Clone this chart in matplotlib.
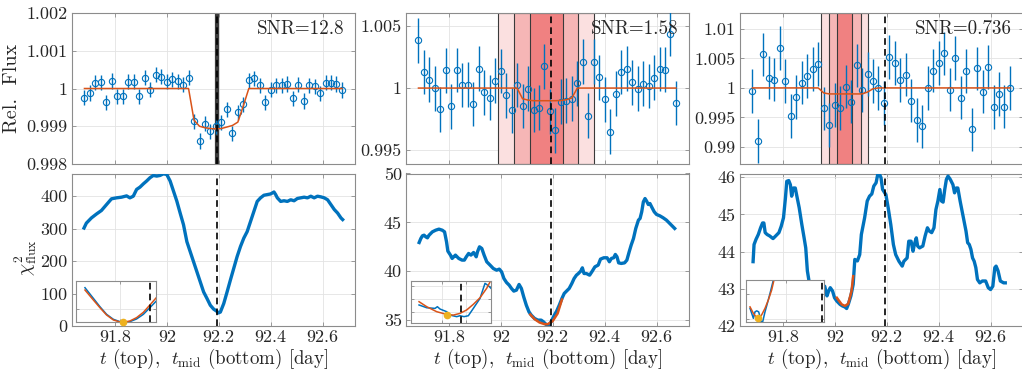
import numpy as np
import matplotlib
matplotlib.use('Agg')
import matplotlib.pyplot as plt

plt.rcParams['font.family'] = 'serif'
plt.rcParams['font.serif'] = ['cmr10']
plt.rcParams['mathtext.fontset'] = 'cm'
plt.rcParams['axes.unicode_minus'] = False
plt.rcParams['axes.formatter.use_mathtext'] = True

# ---- data ----
t_start = 91.683          # first exposure [day]
cadence = 0.0211          # exposure spacing [day]
n_obs = 48
t_obs = t_start + cadence * np.arange(n_obs)

t_mid_true = 92.192
snr_labels = ['SNR=12.8', 'SNR=1.58', 'SNR=0.736']

flux1 = [0.99976, 0.99988, 1.00015, 1.00017, 0.99964, 1.00020, 0.99980, 0.99980, 1.00018, 1.00018,
         0.99980, 1.00029, 0.99997, 1.00037, 1.00031, 1.00018, 1.00024, 1.00019, 1.00010, 1.00028,
         0.99913, 0.99861, 0.99907, 0.99887, 0.99900, 0.99911, 0.99945, 0.99881, 0.99937, 0.99958,
         1.00022, 1.00027, 1.00009, 0.99964, 0.99997, 1.00008, 1.00009, 1.00012, 0.99974, 1.00010,
         0.99967, 1.00009, 1.00006, 0.99987, 1.00015, 1.00015, 1.00012, 0.99996]
flux2 = [1.00385, 1.00129, 1.00067, 0.99997, 0.99828, 1.00143, 0.99852, 1.00145, 1.00024, 1.00027,
         0.99871, 1.00156, 0.99965, 0.99922, 1.00059, 1.00137, 0.99941, 0.99820, 1.00024, 0.99855,
         0.99995, 0.99822, 0.99841, 1.00175, 0.99812, 0.99658, 0.99890, 0.99898, 0.99914, 1.00038,
         1.00213, 0.99777, 1.00213, 1.00086, 0.99909, 0.99648, 0.99954, 1.00129, 1.00156, 1.00046,
         0.99995, 1.00035, 1.00016, 1.00083, 1.00153, 1.00148, 1.00436, 0.99879]
flux3 = [0.99943, 0.99097, 1.00568, 1.00176, 1.00142, 1.00676, 1.00114, 0.99523, 0.99847, 1.00091,
         1.00205, 1.00324, 1.00403, 0.99653, 0.99375, 0.99705, 0.99659, 1.00023, 0.99767, 1.00380,
         0.99960, 1.00239, 1.00114, 1.00000, 0.99739, 1.00523, 1.00420, 1.00131, 1.00227, 0.99784,
         0.99460, 0.99347, 1.00000, 1.00295, 1.00420, 1.00585, 0.99972, 1.00506, 0.99835, 1.00284,
         0.99296, 1.00330, 0.99938, 1.00352, 0.99676, 0.99892, 0.99682, 1.00000]
flux_err = [0.0002, 0.0018, 0.0037]

model1 = np.ones(n_obs)
model1[20:30] = [0.99916, 0.99900, 0.99896, 0.99894, 0.99893, 0.99894, 0.99898, 0.99902, 0.99911, 0.99954]
model2 = np.ones(n_obs)
model2[19:29] = [0.99914, 0.99903, 0.99898, 0.99898, 0.99898, 0.99898, 0.99898, 0.99900, 0.99906, 0.99920]
model3 = np.ones(n_obs)
model3[13:23] = [0.99915, 0.99898, 0.99898, 0.99898, 0.99898, 0.99898, 0.99898, 0.99898, 0.99930, 0.99985]

# uncertainty bands on t_mid (outer, middle, inner)
bands1 = [(92.1850, 92.1990), (92.1868, 92.1972), (92.1886, 92.1954)]
bands2 = [(91.990, 92.360), (92.051, 92.299), (92.114, 92.238)]
bands3 = [(91.947, 92.129), (91.976, 92.100), (92.008, 92.068)]

# chi^2 scans vs trial mid time
tmid1 = [91.6813, 91.6903, 91.7097, 91.7290, 91.7484, 91.7677, 91.7871, 91.8065, 91.8258, 91.8452,
         91.8581, 91.8710, 91.8839, 91.8968, 91.9097, 91.9226, 91.9355, 91.9484, 91.9613, 91.9742,
         91.9871, 92.0000, 92.0129, 92.0258, 92.0387, 92.0516, 92.0645, 92.0774, 92.0903, 92.1032,
         92.1161, 92.1290, 92.1419, 92.1548, 92.1677, 92.1806, 92.1935, 92.1980, 92.2065, 92.2194,
         92.2323, 92.2452, 92.2581, 92.2710, 92.2839, 92.2968, 92.3097, 92.3226, 92.3355, 92.3484,
         92.3613, 92.3742, 92.3871, 92.4000, 92.4129, 92.4194, 92.4258, 92.4387, 92.4516, 92.4645,
         92.4774, 92.4903, 92.5032, 92.5161, 92.5290, 92.5419, 92.5548, 92.5677, 92.5806, 92.5935,
         92.6065, 92.6194, 92.6323, 92.6452, 92.6581, 92.6710, 92.6774]
chi1 = [302, 317, 333, 345, 356, 374, 392, 395, 397, 401,
        395, 400, 421, 428, 438, 447, 457, 464, 462, 464,
        469, 467, 447, 416, 385, 348, 312, 260, 229, 198,
        167, 136, 105, 85, 64, 52, 45, 40, 43, 69,
        105, 142, 178, 214, 245, 271, 291, 322, 353, 384,
        395, 403, 405, 407, 413, 405, 395, 384, 386, 384,
        389, 386, 393, 395, 397, 395, 400, 395, 400, 398,
        395, 389, 374, 359, 348, 333, 328]

tmid2 = [91.6857, 91.6921, 91.6984, 91.7048, 91.7111, 91.7175, 91.7238, 91.7302, 91.7365, 91.7492,
         91.7619, 91.7746, 91.7835, 91.7911, 91.7962, 91.8063, 91.8127, 91.8190, 91.8254, 91.8381,
         91.8508, 91.8597, 91.8673, 91.8762, 91.8851, 91.8952, 91.9054, 91.9105, 91.9181, 91.9270,
         91.9359, 91.9460, 91.9587, 91.9714, 91.9841, 91.9943, 92.0032, 92.0121, 92.0222, 92.0324,
         92.0413, 92.0502, 92.0603, 92.0705, 92.0794, 92.0883, 92.0984, 92.1086, 92.1175, 92.1302,
         92.1429, 92.1556, 92.1644, 92.1746, 92.1848, 92.1937, 92.2063, 92.2152, 92.2254, 92.2356,
         92.2444, 92.2533, 92.2635, 92.2737, 92.2825, 92.2914, 92.2990, 92.3079, 92.3143, 92.3206,
         92.3295, 92.3422, 92.3524, 92.3625, 92.3752, 92.3841, 92.3968, 92.4095, 92.4184, 92.4260,
         92.4349, 92.4413, 92.4476, 92.4540, 92.4641, 92.4768, 92.4857, 92.4946, 92.5022, 92.5111,
         92.5200, 92.5302, 92.5365, 92.5429, 92.5492, 92.5556, 92.5619, 92.5683, 92.5746, 92.5810,
         92.5911, 92.6000, 92.6127, 92.6254, 92.6381, 92.6508, 92.6635, 92.6698]
chi2 = [42.94, 43.35, 43.63, 43.69, 43.52, 43.42, 43.69, 43.86, 44.03, 44.20,
        44.31, 44.20, 44.03, 43.01, 42.06, 41.65, 41.31, 41.48, 41.65, 41.31,
        41.14, 41.14, 41.48, 41.82, 41.65, 41.92, 41.48, 42.00, 42.50, 42.33,
        41.65, 40.97, 40.63, 40.28, 40.11, 40.22, 39.94, 39.26, 38.85, 38.58,
        38.24, 37.97, 38.07, 38.65, 38.24, 37.39, 36.53, 35.85, 35.51, 35.17,
        35.00, 35.00, 34.83, 34.56, 34.42, 34.83, 35.51, 35.92, 36.53, 37.22,
        37.73, 37.97, 38.24, 38.75, 39.26, 39.60, 39.77, 40.01, 40.35, 39.77,
        39.77, 39.60, 40.01, 40.45, 40.63, 41.24, 41.38, 41.38, 40.97, 41.31,
        41.38, 41.72, 41.48, 40.86, 40.80, 40.86, 41.14, 41.99, 42.67, 43.35,
        44.38, 45.23, 45.40, 46.08, 47.10, 47.44, 47.17, 46.83, 46.93, 46.59,
        46.08, 45.81, 45.67, 45.47, 45.23, 44.89, 44.55, 44.38]

tmid3 = [91.6854, 91.6891, 91.6967, 91.7055, 91.7143, 91.7219, 91.7269, 91.7320, 91.7395, 91.7496,
         91.7622, 91.7723, 91.7849, 91.7937, 91.8025, 91.8101, 91.8151, 91.8227, 91.8290, 91.8340,
         91.8403, 91.8479, 91.8529, 91.8630, 91.8731, 91.8819, 91.8882, 91.8945, 91.9008, 91.9109,
         91.9260, 91.9386, 91.9487, 91.9613, 91.9701, 91.9764, 91.9827, 91.9915, 91.9991, 92.0079,
         92.0205, 92.0293, 92.0394, 92.0457, 92.0520, 92.0621, 92.0709, 92.0772, 92.0872, 92.0961,
         92.1024, 92.1150, 92.1250, 92.1339, 92.1427, 92.1502, 92.1591, 92.1654, 92.1717, 92.1780,
         92.1843, 92.1969, 92.2057, 92.2157, 92.2258, 92.2346, 92.2472, 92.2598, 92.2661, 92.2787,
         92.2850, 92.2939, 92.3014, 92.3065, 92.3140, 92.3191, 92.3266, 92.3392, 92.3480, 92.3569,
         92.3644, 92.3732, 92.3821, 92.3896, 92.3972, 92.4047, 92.4110, 92.4173, 92.4236, 92.4299,
         92.4362, 92.4450, 92.4551, 92.4614, 92.4677, 92.4740, 92.4828, 92.4929, 92.5055, 92.5118,
         92.5181, 92.5244, 92.5307, 92.5370, 92.5433, 92.5496, 92.5584, 92.5685, 92.5811, 92.5912,
         92.6000, 92.6088, 92.6164, 92.6214, 92.6290, 92.6378, 92.6504, 92.6567]
chi3 = [43.73, 44.19, 44.33, 44.46, 44.64, 44.77, 44.77, 44.51, 44.46, 44.42,
        44.35, 44.42, 44.51, 44.68, 44.91, 45.45, 45.89, 45.91, 45.80, 45.49,
        45.71, 45.71, 45.53, 45.18, 44.73, 44.37, 44.10, 43.48, 43.21, 43.12,
        43.03, 42.94, 42.98, 43.07, 42.81, 42.94, 43.03, 42.94, 42.76, 42.67,
        42.58, 42.54, 42.51, 42.47, 42.58, 42.81, 43.12, 43.79, 43.75, 43.92,
        44.46, 44.91, 45.36, 45.49, 45.55, 45.76, 45.85, 46.07, 46.09, 45.99,
        45.67, 45.53, 45.18, 44.73, 44.19, 43.92, 43.74, 43.61, 43.74, 43.83,
        44.28, 44.28, 44.01, 44.19, 44.37, 44.15, 44.10, 44.15, 44.42, 44.64,
        44.55, 44.51, 44.64, 45.13, 45.36, 45.67, 45.36, 45.33, 45.67, 45.94,
        46.03, 45.94, 45.80, 45.58, 45.71, 45.71, 45.36, 45.00, 44.55, 44.24,
        44.19, 44.06, 43.83, 43.74, 43.57, 43.25, 43.16, 43.21, 43.21, 43.03,
        42.98, 43.07, 43.57, 43.61, 43.48, 43.21, 43.16, 43.16]

# local parabola fits near the minimum (main panels 2 and 3)
fit_t2 = [92.1137, 92.1302, 92.1492, 92.1683, 92.1810, 92.2000, 92.2190, 92.2356]
fit_c2 = [35.58, 35.10, 34.76, 34.59, 34.59, 34.90, 35.68, 37.11]
fit_t3 = [92.0079, 92.0268, 92.0394, 92.0520, 92.0646, 92.0709]
fit_c3 = [42.76, 42.58, 42.54, 42.60, 42.94, 43.34]

# insets: zoom on chi^2 (blue) and parabola fit (orange), best fit (yellow)
in_t1 = [92.1435, 92.1498, 92.1547, 92.1597, 92.1648, 92.1697, 92.1722, 92.1772, 92.1822, 92.1873, 92.1922, 92.1970]
in_b1 = [56.30, 50.67, 46.27, 42.22, 39.58, 38.35, 38.00, 38.35, 39.76, 42.22, 45.74, 49.26]
in_o1 = [55.07, 49.79, 45.74, 41.87, 39.23, 38.18, 38.00, 38.70, 40.46, 43.28, 47.15, 51.02]
best1 = (92.1718, 38.0)

in_tb2 = [92.1235, 92.1359, 92.1494, 92.1532, 92.1575, 92.1682, 92.1737, 92.1845, 92.1898, 92.1963,
          92.2033, 92.2114, 92.2222, 92.2303, 92.2357, 92.2400]
in_b2 = [35.55, 35.34, 35.29, 35.42, 35.24, 35.04, 34.78, 34.66, 34.73, 34.66,
         34.73, 35.29, 36.05, 37.20, 37.02, 36.82]
in_to2 = [92.1235, 92.1359, 92.1520, 92.1682, 92.1790, 92.1898, 92.2006, 92.2114, 92.2222, 92.2330, 92.2400]
in_o2 = [35.80, 35.42, 35.04, 34.83, 34.78, 34.91, 35.17, 35.60, 36.10, 36.82, 37.45]
best2 = (92.1682, 34.78)

in_tb3 = [92.0108, 92.0150, 92.0192, 92.0233, 92.0275, 92.0325, 92.0358, 92.0383, 92.0425, 92.0483,
          92.0542, 92.0608, 92.0692, 92.0733]
in_b3 = [42.71, 42.61, 42.51, 42.64, 42.66, 42.64, 42.54, 42.44, 42.44, 42.64,
         42.81, 43.01, 43.28, 43.38]
in_to3 = [92.0108, 92.0192, 92.0275, 92.0325, 92.0400, 92.0483, 92.0567, 92.0650, 92.0708, 92.0742]
in_o3 = [42.74, 42.61, 42.52, 42.51, 42.58, 42.71, 42.88, 43.08, 43.28, 43.38]
best3 = (92.0308, 42.51)

# ---- styling ----
blue = '#0072BD'
orange = '#D95319'
yellow = '#EDB120'
band_cols = ['#FBE0E0', '#F6B6B6', '#F08181']
spine_col = '#8c8c8c'
txt_col = '#262626'
fs = 13

W, H = 1022., 378.
lefts = [72, 406, 740]
ax_w = 283
xlim = (91.635, 92.725)
xticks = [91.8, 92, 92.2, 92.4, 92.6]

top_ylim = [(0.998, 1.002), (0.99388, 1.00605), (0.9871, 1.0127)]
top_yticks = [[0.998, 0.999, 1, 1.001, 1.002], [0.995, 1, 1.005], [0.99, 0.995, 1, 1.005, 1.01]]
bot_ylim = [(0, 470), (34.4, 50), (42, 46.1)]
bot_yticks = [[0, 100, 200, 300, 400], [35, 40, 45, 50], [42, 43, 44, 45, 46]]

fluxes = [flux1, flux2, flux3]
models = [model1, model2, model3]
bands = [bands1, bands2, bands3]
tmids = [tmid1, tmid2, tmid3]
chis = [chi1, chi2, chi3]
fits = [None, (fit_t2, fit_c2), (fit_t3, fit_c3)]

inset_rects = [(76.3, 280.7, 80, 41.6), (410.7, 280.7, 80.3, 42), (745.7, 280, 78.6, 42.3)]
inset_xlim = [(92.137, 92.197), (92.11, 92.24), (92.0, 92.1967)]
inset_ylim = [(38, 60), (34.2, 37.4), (42.43, 43.28)]
inset_xt = [[92.17], [92.16, 92.2], [92.1]]
inset_yt = [[45], [35, 36, 37], [42.5, 43]]
inset_blue = [(in_t1, in_b1), (in_tb2, in_b2), (in_tb3, in_b3)]
inset_orange = [(in_t1, in_o1), (in_to2, in_o2), (in_to3, in_o3)]
bests = [best1, best2, best3]


def style_axes(ax):
    for s in ax.spines.values():
        s.set_color(spine_col)
        s.set_linewidth(0.8)
    ax.tick_params(direction='in', length=3, width=0.6, color=spine_col,
                   top=True, right=True, labelsize=fs, labelcolor=txt_col, pad=3)
    ax.grid(True, color='#e3e3e3', lw=0.6)
    ax.set_axisbelow(True)


fig = plt.figure(figsize=(W / 100, H / 100), dpi=100)

for i in range(3):
    # top: light curve
    ax = fig.add_axes([lefts[i] / W, 1 - 164 / H, ax_w / W, 151 / H])
    style_axes(ax)
    for (lo, hi), c in zip(bands[i], band_cols):
        ax.axvspan(lo, hi, facecolor=c, edgecolor='#3a3a3a', lw=0.8, zorder=1)
    ax.errorbar(t_obs, fluxes[i], yerr=flux_err[i], fmt='o', ms=4.5, mfc='none',
                mec=blue, mew=0.8, ecolor=blue, elinewidth=1.0, capsize=0, zorder=3)
    ax.plot(t_obs, models[i], color=orange, lw=1.1, zorder=4)
    ax.axvline(t_mid_true, color='k', ls=(0, (4, 2.5)), lw=1.2, zorder=5)
    ax.set_xlim(xlim)
    ax.set_xticks(xticks)
    ax.set_xticklabels([])
    ax.set_ylim(top_ylim[i])
    ax.set_yticks(top_yticks[i], labels=['%g' % v for v in top_yticks[i]])
    ax.text(0.962, 0.955, snr_labels[i], transform=ax.transAxes, ha='right', va='top',
            fontsize=fs + 0.7, color=txt_col, zorder=6)
    if i == 0:
        ax.set_ylabel('Rel.  Flux', fontsize=fs + 1.5, color=txt_col)
        ax.yaxis.set_label_coords(-0.18, 0.5)

    # bottom: chi^2 scan
    axb = fig.add_axes([lefts[i] / W, 1 - 326 / H, ax_w / W, 152.5 / H])
    style_axes(axb)
    axb.plot(tmids[i], chis[i], color=blue, lw=2.4, zorder=3)
    if fits[i] is not None:
        axb.plot(fits[i][0], fits[i][1], color=orange, lw=1.8, zorder=4)
    axb.axvline(t_mid_true, color='k', ls=(0, (4, 2.5)), lw=1.2, zorder=5)
    axb.set_xlim(xlim)
    axb.set_xticks(xticks, labels=['%g' % v for v in xticks])
    axb.set_ylim(bot_ylim[i])
    axb.set_yticks(bot_yticks[i], labels=['%g' % v for v in bot_yticks[i]])
    axb.set_xlabel(r'$t$ (top), $\ t_{\rm mid}$ (bottom) [day]', fontsize=fs + 0.6,
                   color=txt_col, labelpad=1)
    if i == 0:
        axb.set_ylabel(r'$\chi^2_{\rm flux}$', fontsize=fs + 1, color=txt_col)
        axb.yaxis.set_label_coords(-0.117, 0.45)

    # inset
    x0, y0, w, h = inset_rects[i]
    axi = fig.add_axes([x0 / W, 1 - (y0 + h) / H, w / W, h / H])
    style_axes(axi)
    axi.tick_params(length=2, labelbottom=False, labelleft=False)
    axi.plot(inset_blue[i][0], inset_blue[i][1], color=blue, lw=1.1)
    axi.plot(inset_orange[i][0], inset_orange[i][1], color=orange, lw=1.1)
    axi.axvline(t_mid_true, color='k', ls=(0, (4, 2.5)), lw=1.2)
    axi.plot(bests[i][0], bests[i][1], 'o', color=yellow, ms=4.5, clip_on=False, zorder=5)
    axi.set_xlim(inset_xlim[i])
    axi.set_ylim(inset_ylim[i])
    axi.set_xticks(inset_xt[i])
    axi.set_yticks(inset_yt[i])

fig.savefig('out.png', dpi=100, facecolor='white')
